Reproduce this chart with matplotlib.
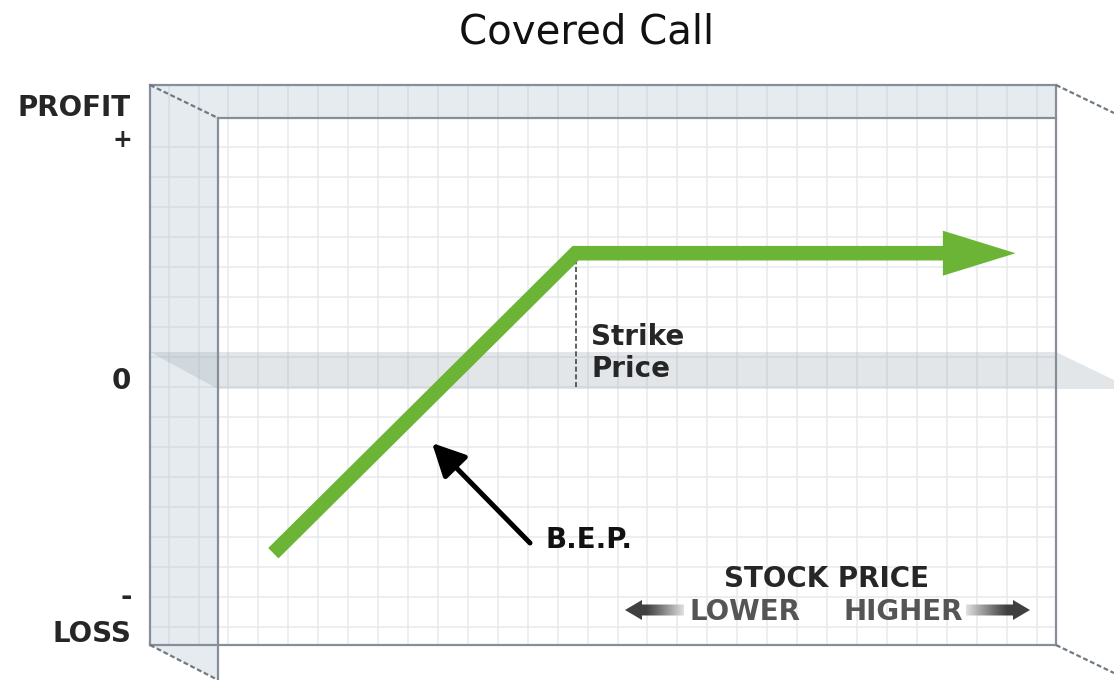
import numpy as np
import matplotlib
matplotlib.use("Agg")
import matplotlib.pyplot as plt
import matplotlib.transforms as mtransforms
from matplotlib.patches import Polygon
from matplotlib.lines import Line2D
from matplotlib.ticker import MultipleLocator

# ---------------- data (grid-cell units) ----------------
stock_price = [1.5, 11.6, 26.3]      # start of payoff, strike (kink), arrow tip
profit = [-5.55, 4.45, 4.45]
strike_price = 11.6
title = "Covered Call"
y_labels = ["PROFIT", "+", "0", "-", "LOSS"]
x_title = "STOCK PRICE"
x_dir_labels = ["LOWER", "HIGHER"]
strike_label = ["Strike", "Price"]
bep_label = "B.E.P."

# ---------------- layout ----------------
W, H = 1114, 680
fig = plt.figure(figsize=(W / 100, H / 100), dpi=100)
fig.patch.set_facecolor("white")
PX = mtransforms.Affine2D().scale(1 / W, -1 / H).translate(0, 1) + fig.transFigure

BL, FL, R, RX = 150, 218, 1056, 1114
TB, TF, BB, BF = 85, 118, 645, 680
XMIN, XMAX = -0.35, 27.65
YMIN, YMAX = -8.61, 8.957

GREEN = "#6cb436"
FRAME = "#868f99"
WALL = "#e6ebf0"
WALLGRID = "#d5dce3"
GRID = "#e7eaee"
TXT = "#262626"

ax = fig.add_axes([FL / W, 1 - BB / H, (R - FL) / W, (BB - TF) / H])
ax.set_xlim(XMIN, XMAX)
ax.set_ylim(YMIN, YMAX)
ax.set_facecolor("white")
for s in ax.spines.values():
    s.set_visible(False)
ax.tick_params(length=0, labelbottom=False, labelleft=False)
ax.xaxis.set_major_locator(MultipleLocator(1))
ax.yaxis.set_major_locator(MultipleLocator(1))
ax.set_axisbelow(True)
ax.grid(True, color=GRID, lw=1.1)


def px_x(v):
    return FL + (v - XMIN) * (R - FL) / (XMAX - XMIN)


def px_y(v):
    return TF + (YMAX - v) * (BB - TF) / (YMAX - YMIN)


def pline(xs, ys, **kw):
    ln = Line2D(xs, ys, transform=PX, clip_on=False, **kw)
    ax.add_line(ln)
    return ln


# shaded ceiling + left wall
ax.add_patch(Polygon([(BL, TB), (R, TB), (R, TF), (FL, TF), (FL, BF), (BL, BB)],
                     closed=True, transform=PX, facecolor=WALL, edgecolor="none",
                     clip_on=False, zorder=0.2))

# grid on ceiling and left wall
for k in range(-2, 28):
    x = px_x(k)
    if x < FL:
        pline([x, x], [TB, BB], color=WALLGRID, lw=1.1, zorder=0.3)
    else:
        pline([x, x], [TB, TF], color=WALLGRID, lw=1.1, zorder=0.3)
for k in range(-8, 9):
    y = px_y(k)
    pline([BL, FL], [y, y], color=WALLGRID, lw=1.1, zorder=0.3)

# zero plane band
ax.add_patch(Polygon([(BL, 352), (R, 352), (RX, 380), (RX, 389), (FL, 389)],
                     closed=True, transform=PX, facecolor="#8e99a4", alpha=0.24,
                     edgecolor="none", clip_on=False, zorder=2))

# frame lines
for xs, ys in [([BL, R], [TB, TB]), ([BL, BL], [TB, BB]), ([BL, R], [BB, BB]),
               ([R, R], [TB, BB]), ([FL, R], [TF, TF]), ([FL, FL], [TF, BF])]:
    pline(xs, ys, color=FRAME, lw=1.6, zorder=3.5, solid_capstyle="projecting")
for xs, ys in [([BL, FL], [TB, TF]), ([BL, FL], [BB, BF]),
               ([R, RX], [TB, TB + 28]), ([R, RX], [BB, BB + 28])]:
    pline(xs, ys, color="#707a84", lw=1.6, ls=(0, (2.2, 1.2)), zorder=3.5)

# strike dashed line
ax.plot([strike_price, strike_price], [0, profit[1]], color="#444444", lw=1.2,
        ls=(0, (3, 1.6)), zorder=3)

# payoff line with arrow head
head_len, head_half = 2.43, 0.75
hb = stock_price[2] - head_len
ax.plot([stock_price[0], stock_price[1], hb + 0.1], [profit[0], profit[1], profit[2]],
        color=GREEN, lw=10.5, solid_joinstyle="miter", solid_capstyle="butt", zorder=4)
ax.fill([hb, stock_price[2], hb], [profit[2] + head_half, profit[2], profit[2] - head_half],
        color=GREEN, lw=0, zorder=4)

# B.E.P. arrow
ax.annotate("", xy=(432, 443), xytext=(530, 543), xycoords=PX, textcoords=PX,
            arrowprops=dict(arrowstyle="-|>", color="black", lw=3.6,
                            mutation_scale=50, shrinkA=0, shrinkB=0), zorder=5)


# gradient direction arrows
def grad_arrow(tip, tail, yc, left):
    d = -1 if left else 1
    hx = tip - d * 17
    pts = [(tip, yc), (hx, yc - 10), (hx, yc - 5.5), (tail, yc - 5.5),
           (tail, yc + 5.5), (hx, yc + 5.5), (hx, yc + 10)]
    clip = Polygon(pts, closed=True, transform=PX, facecolor="none", edgecolor="none")
    n = 200
    t = np.linspace(0, 1, n)
    x0, x1 = min(tip, tail), max(tip, tail)
    frac = t if left else 1 - t  # 0 at tip
    val = 0.25 + (0.88 - 0.25) * np.clip((frac - 0.35) / 0.65, 0, 1) ** 1.1
    im = ax.imshow(val[None, :], cmap="gray", vmin=0, vmax=1, aspect="auto",
                   extent=(x0, x1, yc + 11, yc - 11), transform=PX,
                   interpolation="bilinear", zorder=5)
    im.set_clip_path(clip)


grad_arrow(625, 684, 610, True)
grad_arrow(1030, 966, 610, False)

# texts
bold = dict(fontweight="bold", fontsize=20, color=TXT, transform=PX)
ax.text(587, 43, title, transform=PX, ha="center", va="baseline", fontsize=29, color="#111111")
ax.text(131, 116, y_labels[0], ha="right", va="baseline", **bold)
ax.text(122.5, 140, y_labels[1], ha="center", va="center", **{**bold, "fontsize": 17})
ax.text(131, 389, y_labels[2], ha="right", va="baseline", **bold)
ax.text(126, 597, y_labels[3], ha="center", va="center", **bold)
ax.text(131, 642, y_labels[4], ha="right", va="baseline", **bold)
ax.text(591, 345, strike_label[0], ha="left", va="baseline", **bold)
ax.text(591, 377, strike_label[1], ha="left", va="baseline", **bold)
ax.text(545, 548, bep_label, ha="left", va="baseline", **{**bold, "color": "#111111"})
ax.text(827, 587, x_title, ha="center", va="baseline", **bold)
ax.text(690, 620, x_dir_labels[0], ha="left", va="baseline", **{**bold, "color": "#555555"})
ax.text(843, 620, x_dir_labels[1], ha="left", va="baseline", **{**bold, "color": "#555555"})

ax.set_xlim(XMIN, XMAX)
ax.set_ylim(YMIN, YMAX)
fig.savefig("out.png", dpi=100, facecolor="white")
